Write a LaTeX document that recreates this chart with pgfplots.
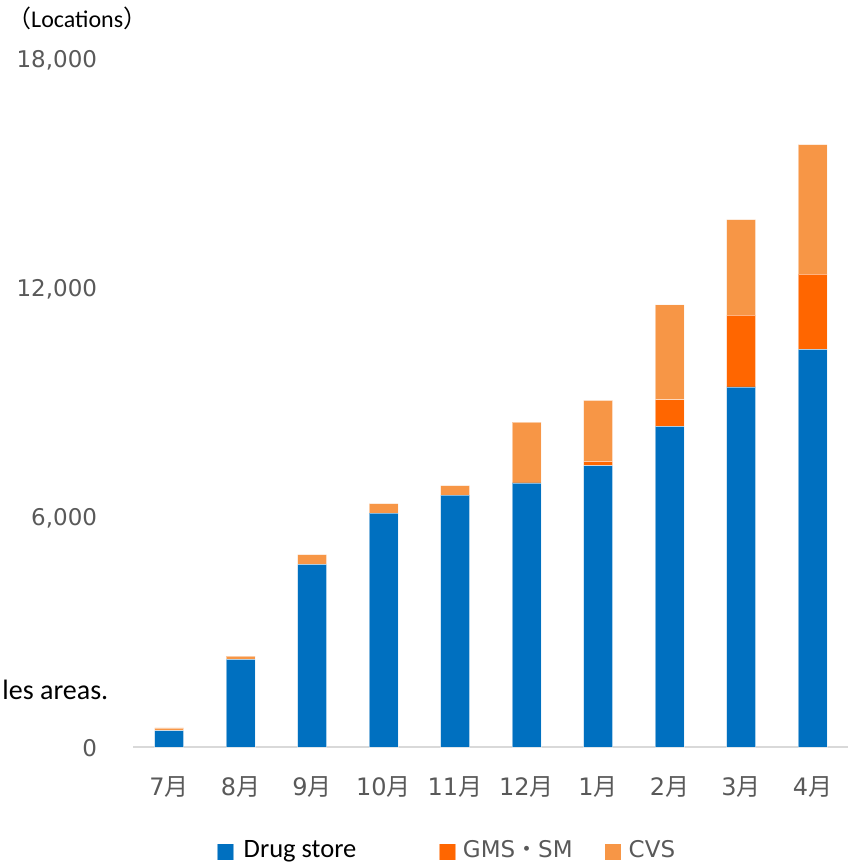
\documentclass[border=0pt]{standalone}
\usepackage{pgfplots}
\pgfplotsset{compat=1.18}
\usepackage{pgfplotstable}
\usepackage{fontspec}
\setmainfont{Carlito}
\newfontfamily\dv{DejaVu Sans}
\newfontfamily\jp{Noto Sans CJK JP}

\definecolor{drug}{HTML}{0070C0}
\definecolor{gms}{HTML}{FF6600}
\definecolor{cvs}{HTML}{F79646}
\definecolor{ticktext}{HTML}{595959}
\definecolor{axisgray}{HTML}{D9D9D9}

% Number of locations per month, by store type
\pgfplotstableread{
idx drug  gms  cvs
0   430   0    70
1   2290  0    90
2   4780  0    250
3   6120  0    250
4   6590  0    250
5   6910  0    1590
6   7360  110  1600
7   8390  700  2480
8   9420  1880 2500
9   10400 1970 3390
}\locations

\newcommand{\mon}[1]{{\dv #1}{\jp 月}}

\begin{document}
\begin{tikzpicture}[x=1pt,y=1pt]
\useasboundingbox (0,0) rectangle (853,865);

\node[anchor=base west, inner sep=0pt] at (7,837)
  {\fontsize{24}{29}\selectfont{\jp （}Locations{\jp ）}};
\node[anchor=base east, inner sep=0pt] at (108.5,165)
  {\fontsize{28}{33}\selectfont les areas.};

\begin{axis}[
  at={(133.25pt,118pt)}, anchor=south west,
  scale only axis, width=715pt, height=688pt,
  ybar stacked, bar width=29pt,
  xmin=-0.5, xmax=9.5, ymin=0, ymax=18000,
  axis lines*=left,
  y axis line style={draw=none},
  x axis line style={draw=axisgray, line width=1.5pt},
  major tick length=0pt,
  scaled y ticks=false,
  xtick={0,...,9},
  xticklabels={\mon{7},\mon{8},\mon{9},\mon{10},\mon{11},\mon{12},\mon{1},\mon{2},\mon{3},\mon{4}},
  ytick={0,6000,12000,18000},
  yticklabels={0,{6,000},{12,000},{18,000}},
  yticklabel style={font=\dv\fontsize{23}{27}\selectfont, text=ticktext,
    anchor=east, inner sep=0pt, xshift=-36pt, yshift=-1pt},
  xticklabel style={font=\fontsize{24}{28}\selectfont, text=ticktext,
    anchor=center, inner sep=0pt, yshift=-40pt},
  legend columns=3,
  legend cell align=left,
  legend image code/.code={\fill[#1] (0pt,-8.25pt) rectangle (16.5pt,8.25pt);},
  legend style={at={(0.1171,-0.1526)}, anchor=west, draw=none, fill=none,
    inner sep=0pt, outer sep=0pt,
    font=\fontsize{24}{28}\selectfont,
    nodes={inner sep=0pt, text height=17pt, text depth=5pt},
    /tikz/every odd column/.append style={column sep=7pt}},
  every axis plot/.append style={draw=white, draw opacity=0.5, line width=0.75pt},
]
\addplot[fill=drug] table[x=idx, y=drug] {\locations};
\addlegendentry{\makebox[197.5pt][l]{\hspace{2.5pt}\fontsize{26.5}{30}\selectfont Drug store}}
\addplot[fill=gms] table[x=idx, y=gms] {\locations};
\addlegendentry{\makebox[141.5pt][l]{\color{ticktext}\dv\fontsize{23}{28}\selectfont GMS{\jp ・}SM}}
\addplot[fill=cvs] table[x=idx, y=cvs] {\locations};
\addlegendentry{{\color{ticktext}\dv\fontsize{23}{28}\selectfont CVS}}
\end{axis}
\end{tikzpicture}
\end{document}
